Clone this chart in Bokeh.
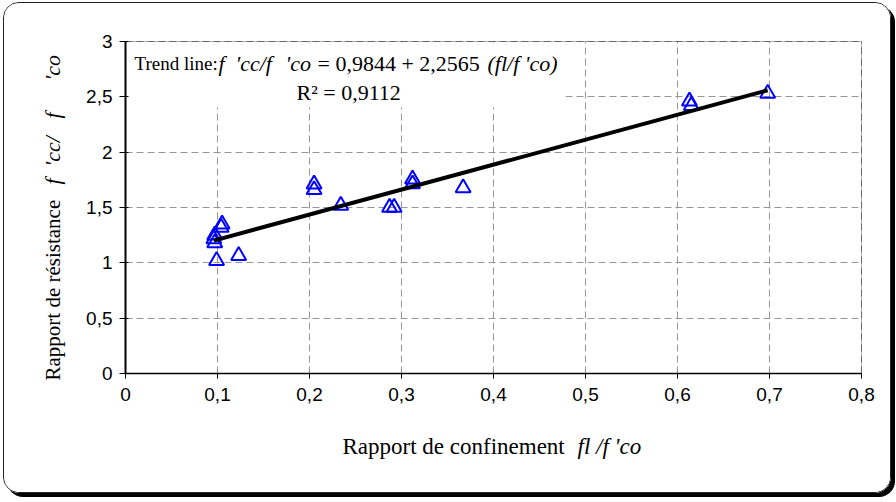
import math
from bokeh.plotting import figure
from bokeh.models import Label, BoxAnnotation, FixedTicker, Range1d
from bokeh.embed import file_html
from bokeh.resources import INLINE

# ---- data ----
confinement_ratio = [0.097, 0.096, 0.097, 0.105, 0.104, 0.099, 0.123,
                     0.205, 0.205, 0.234, 0.287, 0.292, 0.312, 0.312,
                     0.367, 0.613, 0.615, 0.698]
strength_ratio = [1.25, 1.215, 1.18, 1.35, 1.32, 1.02, 1.065,
                  1.71, 1.66, 1.518, 1.50, 1.50, 1.757, 1.712,
                  1.676, 2.46, 2.42, 2.53]
trend_intercept = 0.9844
trend_slope = 2.2565

x_ticks = [0, 0.1, 0.2, 0.3, 0.4, 0.5, 0.6, 0.7, 0.8]
x_tick_labels = ["0", "0,1", "0,2", "0,3", "0,4", "0,5", "0,6", "0,7", "0,8"]
y_ticks = [0, 0.5, 1, 1.5, 2, 2.5, 3]
y_tick_labels = ["0", "0,5", "1", "1,5", "2", "2,5", "3"]
x_limits = (0, 0.8)
y_limits = (0, 3)

# ---- layout (page pixels) ----
W, H = 888, 491
CANVAS_X0, CANVAS_Y0 = 4, 3          # where the canvas lands on the page
AREA_L, AREA_R, AREA_T, AREA_B = 125, 861, 41, 373   # plot area on the page
PX_X = (AREA_R - AREA_L) / (x_limits[1] - x_limits[0])
PX_Y = (AREA_B - AREA_T) / (y_limits[1] - y_limits[0])

def dx(px):
    return x_limits[0] + (px - AREA_L) / PX_X
def dy(py):
    return y_limits[0] + (AREA_B - py) / PX_Y

p = figure(width=W, height=H, output_backend="svg", toolbar_location=None,
           x_range=Range1d(dx(CANVAS_X0), dx(CANVAS_X0 + W)),
           y_range=Range1d(dy(CANVAS_Y0 + H), dy(CANVAS_Y0)),
           min_border=0)
p.background_fill_color = "white"
p.border_fill_color = "white"
p.outline_line_color = None
p.styles = {"border": "1px solid #222", "border-radius": "16px",
            "box-shadow": "4px 4px 0 0 #000", "overflow": "hidden",
            "margin-left": "3px", "margin-top": "2px"}

# axes placed at the plot-area edges
p.xaxis.fixed_location = y_limits[0]
p.yaxis.fixed_location = x_limits[0]
p.xaxis.bounds = x_limits
p.yaxis.bounds = y_limits
p.xaxis.ticker = FixedTicker(ticks=x_ticks)
p.yaxis.ticker = FixedTicker(ticks=y_ticks)
p.xaxis.major_label_overrides = dict(zip(x_ticks, x_tick_labels))
p.yaxis.major_label_overrides = dict(zip(y_ticks, y_tick_labels))
for ax in (p.xaxis, p.yaxis):
    ax.axis_line_color = "black"
    ax.major_tick_line_color = "black"
    ax.minor_tick_line_color = None
    ax.major_label_text_font = "Liberation Sans"
    ax.major_label_text_font_size = "19px"
    ax.major_label_text_color = "black"
    ax.axis_label = None
p.yaxis.axis_line_width = 2
p.xaxis.axis_line_width = 1.5
p.yaxis.major_tick_out = 6
p.yaxis.major_tick_in = 3
p.xaxis.major_tick_out = 5
p.xaxis.major_tick_in = 0
p.yaxis.major_label_standoff = 7
p.xaxis.major_label_standoff = 9

# grid restricted to the plot area
p.xgrid.ticker = FixedTicker(ticks=x_ticks)
p.ygrid.ticker = FixedTicker(ticks=y_ticks)
p.xgrid.bounds = x_limits
p.ygrid.bounds = y_limits
p.xgrid.cross_bounds = y_limits
p.ygrid.cross_bounds = x_limits
for g in (p.xgrid, p.ygrid):
    g.grid_line_color = "#969696"
    g.grid_line_dash = "7 4"
    g.grid_line_width = 1

# white box behind the trend-line equation (hides grid)
p.add_layout(BoxAnnotation(left=dx(127), right=dx(565), top=dy(42), bottom=dy(107),
                           fill_color="white", fill_alpha=1.0, line_color=None,
                           level="underlay"))
# plot-area border
p.add_layout(BoxAnnotation(left=x_limits[0], right=x_limits[1],
                           bottom=y_limits[0], top=y_limits[1],
                           fill_color=None, fill_alpha=0, line_color="black",
                           line_width=1))

# data
p.scatter(confinement_ratio, strength_ratio, marker="triangle", size=15,
          fill_color=None, line_color="#0000FF", line_width=2)

# trend line
x0, x1 = min(confinement_ratio), max(confinement_ratio)
p.line([x0, x1], [trend_intercept + trend_slope * x0, trend_intercept + trend_slope * x1],
       line_color="black", line_width=4)

# text helpers
def lab(text, px, py, italic=False, size="22px", angle=0.0):
    p.add_layout(Label(x=dx(px), y=dy(py), text=text,
                       text_font="Liberation Serif", text_font_size=size,
                       text_font_style="italic" if italic else "normal",
                       text_color="black", text_align="left",
                       text_baseline="alphabetic", angle=angle))

# trend equation
lab("Trend line:", 134, 63, size="19px")
lab("f", 218, 63, italic=True)
lab("'cc/f", 235, 63, italic=True)
lab("'co", 285, 63, italic=True)
lab("= 0,9844 + 2,2565", 317, 63)
lab("(fl/f 'co)", 487, 63, italic=True)
lab("R\u00b2 = 0,9112", 296, 92)

# axis titles
lab("Rapport de confinement", 342, 446, size="23px")
lab("fl /f 'co", 577, 446, italic=True, size="23px")
vert = math.pi / 2
lab("Rapport de r\u00e9sistance", 52, 380, size="21px", angle=vert)
lab("f", 52, 184, italic=True, angle=vert)
lab("'cc/", 52, 166, italic=True, angle=vert)
lab("f", 52, 118, italic=True, angle=vert)
lab("'co", 52, 80, italic=True, angle=vert)

open("out.html", "w").write(file_html(p, INLINE))
